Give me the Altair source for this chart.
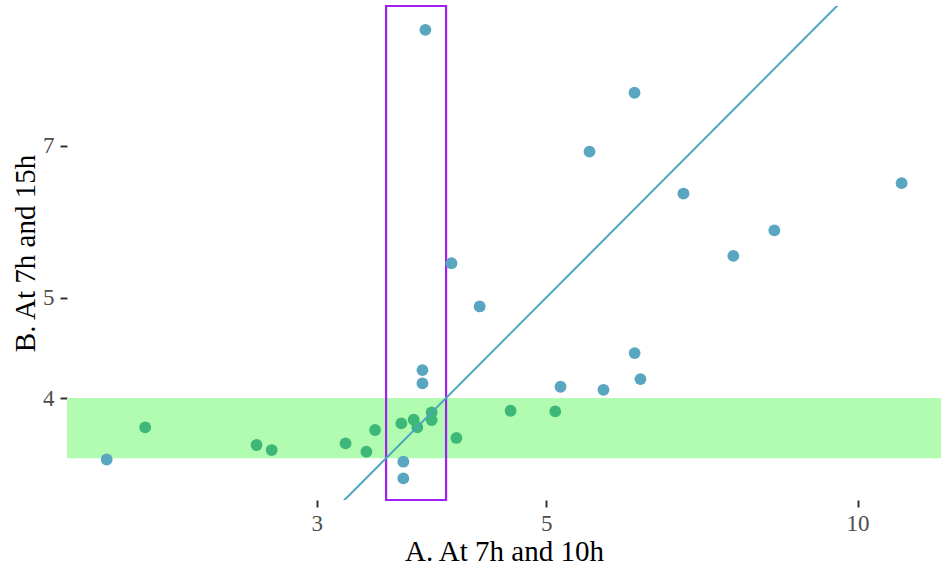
import altair as alt
import pandas as pd

# Points: A (x) and B (y), with group colour
x_blue = [1.879, 3.795, 3.795, 3.637, 3.637, 3.820, 4.048, 4.311, 6.087, 6.166,
          5.161, 5.679, 6.085, 5.505, 6.786, 8.308, 7.583, 11.03]
y_blue = [3.49, 4.256, 4.132, 3.473, 3.347, 9.058, 5.396, 4.902, 4.420, 4.172,
          4.102, 4.074, 7.878, 6.913, 6.298, 5.804, 5.484, 6.445]
x_green = [2.047, 2.623, 2.713, 3.198, 3.350, 3.415, 3.621, 3.722, 3.752, 3.874,
           3.874, 4.093, 4.618, 5.101]
y_green = [3.748, 3.604, 3.564, 3.617, 3.551, 3.726, 3.781, 3.812, 3.748, 3.874,
           3.809, 3.661, 3.889, 3.883]

x_ticks = [3, 5, 10]
y_ticks = [4, 5, 7]
x_domain = [1.72, 12.04]
y_domain = [3.19, 9.55]

band_y = [3.5, 4.0]       # green horizontal band
window_x = [3.5, 4.0]     # purple vertical window
identity = [1.5, 14.0]    # y = x reference line

FONT = "Liberation Serif"
BLUE = "#58A6C0"
GREEN = "#3DB878"

pts = pd.DataFrame({
    "A": x_blue + x_green,
    "B": y_blue + y_green,
    "grp": ["out"] * len(x_blue) + ["in"] * len(x_green),
})
band_df = pd.DataFrame({"y1": [band_y[0]], "y2": [band_y[1]]})
win_df = pd.DataFrame({"x1": [window_x[0]], "x2": [window_x[1]]})
line_df = pd.DataFrame({"A": identity, "B": identity})

xs = alt.Scale(type="log", domain=x_domain, nice=False, zero=False)
ys = alt.Scale(type="log", domain=y_domain, nice=False, zero=False)

xaxis = alt.Axis(values=x_ticks, title="A. At 7h and 10h", format="d")
yaxis = alt.Axis(values=y_ticks, title="B. At 7h and 15h", format="d")

band = alt.Chart(band_df).mark_rect(color="#B2FCB2").encode(
    y=alt.Y("y1:Q", scale=ys, axis=yaxis),
    y2="y2:Q",
)

window = alt.Chart(win_df).mark_rect(
    fill=None, fillOpacity=0, stroke="#A020F0", strokeWidth=2.2
).encode(
    x=alt.X("x1:Q", scale=xs, axis=xaxis),
    x2="x2:Q",
)

points = alt.Chart(pts).mark_circle(size=140, opacity=1).encode(
    x=alt.X("A:Q", scale=xs, axis=xaxis),
    y=alt.Y("B:Q", scale=ys, axis=yaxis),
    color=alt.Color("grp:N", scale=alt.Scale(domain=["out", "in"], range=[BLUE, GREEN]), legend=None),
)

line = alt.Chart(line_df).mark_line(color="#4AA6BC", strokeWidth=2, clip=True).encode(
    x=alt.X("A:Q", scale=xs, axis=xaxis),
    y=alt.Y("B:Q", scale=ys, axis=yaxis),
)

chart = alt.layer(band, window, points, line).properties(
    width=874,
    height=494,
    autosize=alt.AutoSizeParams(type="none"),
    padding={"left": 67, "top": 6, "right": 1, "bottom": 68},
).configure_view(stroke=None).configure_axis(
    domain=False,
    grid=False,
    ticks=True,
    tickSize=7,
    tickWidth=2,
    tickColor="#333333",
    labelFont=FONT,
    labelFontSize=23,
    labelColor="#4D4D4D",
    labelPadding=5,
    titleFont=FONT,
    titleFontSize=29,
    titleFontWeight="normal",
    titleColor="#000000",
    titlePadding=2,
).configure_axisY(labelPadding=6)

chart.save("out.html", embed_options={"renderer": "svg", "actions": False})
